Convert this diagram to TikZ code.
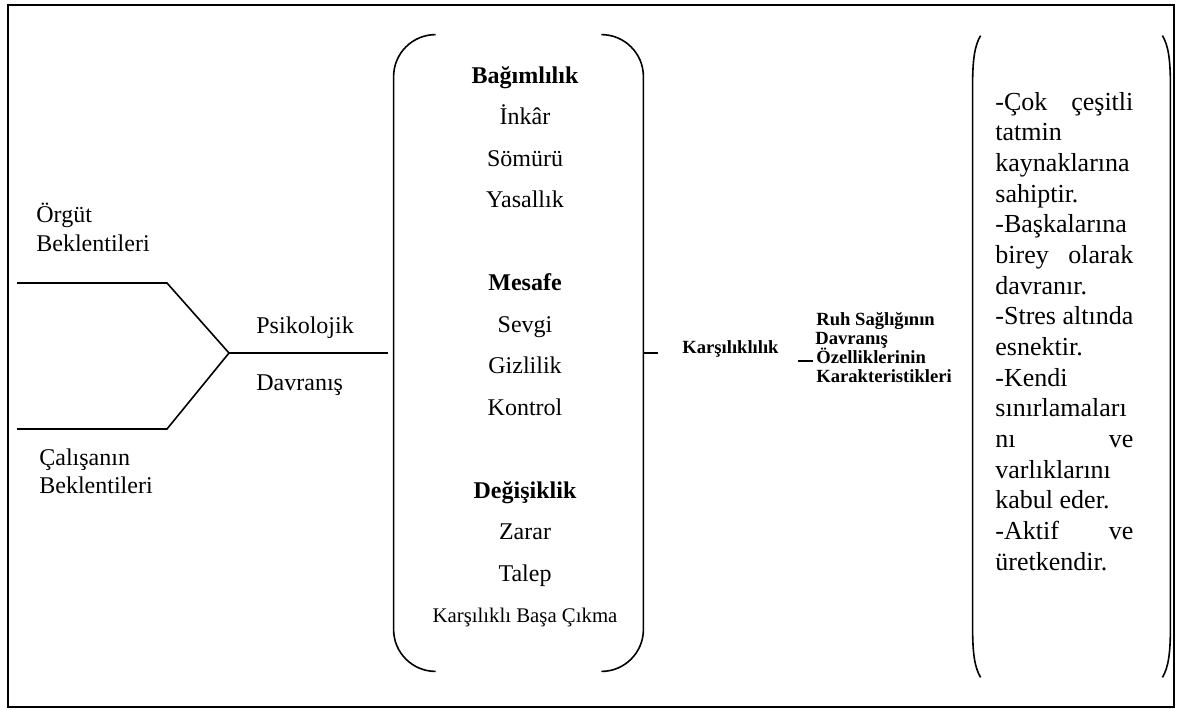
\documentclass[tikz,border=0pt]{standalone}
\usepackage{fontspec}
\setmainfont{Liberation Serif}
\begin{document}
\begin{tikzpicture}[x=0.5pt,y=-0.5pt,
  line/.style={line width=0.8pt},
  lbl/.style={inner sep=0pt,anchor=base west,font=\fontsize{12}{14}\selectfont},
  item/.style={inner sep=0pt,anchor=base,font=\fontsize{12}{14}\selectfont},
  head/.style={item,font=\fontsize{12}{14}\selectfont\bfseries},
  small/.style={inner sep=0pt,anchor=base west,font=\fontsize{9.3}{9.5}\selectfont\bfseries},
  rline/.style={inner sep=0pt,anchor=base west,font=\fontsize{13}{15}\selectfont},
  bracket/.style={line width=0.8pt,rounded corners=21pt},
]
\useasboundingbox (0,0) rectangle (1177,709);
% outer frame
\draw[line width=1.2pt] (8,5) rectangle (1174,707);

% left branches joining into the central stem
\coordinate (o1) at (17,283);
\coordinate (o2) at (167,283);
\coordinate (jn) at (229,353);
\coordinate (c2) at (167,429);
\coordinate (c1) at (17,429);
\coordinate (m0) at (388,353);
\draw[line] (o1) -- (o2) -- (jn) -- (c2) -- (c1);
\draw[line] (jn) -- (m0);

\node[lbl] (org1) at (36,222.7) {Örgüt};
\node[lbl] (org2) at (36,251.7) {Beklentileri};
\node[lbl] (cal1) at (39,465) {Çalışanın};
\node[lbl] (cal2) at (39,493) {Beklentileri};
\node[lbl] (psi) at (256,333) {Psikolojik};
\node[lbl] (dav) at (256,390) {Davranış};

% central bracketed list
\node[minimum width=124.5pt,minimum height=318pt,inner sep=0pt] (mid) at (518.5,353) {};
\draw[bracket] ([xshift=20.5pt]mid.north west) -- (mid.north west) -- (mid.south west) -- ([xshift=20.5pt]mid.south west);
\draw[bracket] ([xshift=-20.5pt]mid.north east) -- (mid.north east) -- (mid.south east) -- ([xshift=-20.5pt]mid.south east);

\node[head] (g1) at (525,83) {Bağımlılık};
\node[item] (g1a) at (525,124.5) {İnkâr};
\node[item] (g1b) at (525,166) {Sömürü};
\node[item] (g1c) at (525,207.5) {Yasallık};
\node[head] (g2) at (525,290.5) {Mesafe};
\node[item] (g2a) at (525,332) {Sevgi};
\node[item] (g2b) at (525,373.5) {Gizlilik};
\node[item] (g2c) at (525,415) {Kontrol};
\node[head] (g3) at (525,498) {Değişiklik};
\node[item] (g3a) at (525,539.5) {Zarar};
\node[item] (g3b) at (525,581) {Talep};
\node[item,font=\fontsize{10.4}{12}\selectfont] (g3c) at (525,622) {Karşılıklı Başa Çıkma};

% reciprocity link
\coordinate (k0) at (658,353);
\draw[line] (mid.east) -- (k0);
\node[small] (kars) at (682,353) {Karşılıklılık};
\coordinate (k1) at (798,361);
\coordinate (k2) at (813,361);
\draw[line] (k1) -- (k2);

\node[small] (ruh1) at (816,325) {Ruh Sağlığının};
\node[small] (ruh2) at (815,344) {Davranış};
\node[small] (ruh3) at (816,363) {Özelliklerinin};
\node[small] (ruh4) at (816,382) {Karakteristikleri};

% right parenthesised list of characteristics
\node[minimum width=98.5pt,minimum height=320.5pt,inner sep=0pt] (rbox) at (1071.5,356.5) {};
\draw[line] ([xshift=4pt]rbox.north west) .. controls ([xshift=1pt,yshift=-5pt]rbox.north west) and ([yshift=-12pt]rbox.north west) .. ([yshift=-25pt]rbox.north west)
  -- ([yshift=25pt]rbox.south west) .. controls ([yshift=12pt]rbox.south west) and ([xshift=1pt,yshift=5pt]rbox.south west) .. ([xshift=4pt]rbox.south west);
\draw[line] ([xshift=-4pt]rbox.north east) .. controls ([xshift=-1pt,yshift=-5pt]rbox.north east) and ([yshift=-12pt]rbox.north east) .. ([yshift=-25pt]rbox.north east)
  -- ([yshift=25pt]rbox.south east) .. controls ([yshift=12pt]rbox.south east) and ([xshift=-1pt,yshift=5pt]rbox.south east) .. ([xshift=-4pt]rbox.south east);

\foreach \txt [count=\i] in {
  {\makebox[69pt][s]{-Çok çeşitli}},
  {tatmin},
  {kaynaklarına},
  {sahiptir.},
  {-Başkalarına},
  {\makebox[69pt][s]{birey olarak}},
  {davranır.},
  {\makebox[69pt][s]{-Stres altında}},
  {esnektir.},
  {-Kendi},
  {sınırlamaları},
  {\makebox[69pt][s]{nı ve}},
  {varlıklarını},
  {kabul eder.},
  {\makebox[69pt][s]{-Aktif ve}},
  {üretkendir.}}
  \node[rline] (r\i) at (995,{110+(\i-1)*30.67}) {\txt};
\end{tikzpicture}
\end{document}
